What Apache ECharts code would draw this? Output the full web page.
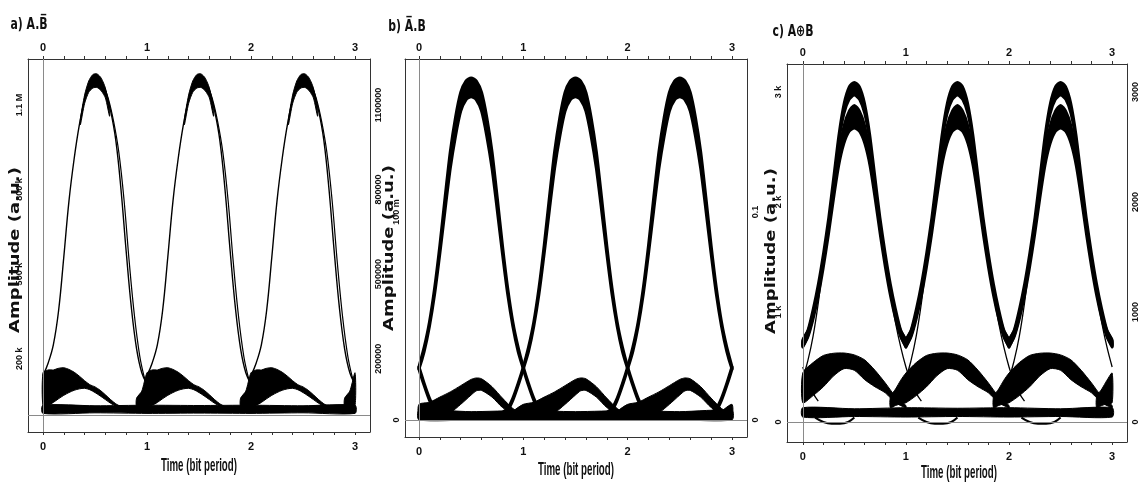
<!DOCTYPE html>
<html>
<head>
<meta charset="utf-8">
<title>Eye diagrams</title>
<script src="https://cdn.jsdelivr.net/npm/echarts@6/dist/echarts.min.js"></script>
<style>
  html, body { margin: 0; padding: 0; background: #fff; }
  #main { width: 1140px; height: 488px; }
</style>
</head>
<body>
<div id="main"></div>
<script>
// ---------- tick labels ----------
const xLabels = [0, 1, 2, 3];
const xTicks = [0, 0.2, 0.4, 0.6, 0.8, 1, 1.2, 1.4, 1.6, 1.8, 2, 2.2, 2.4, 2.6, 2.8, 3];
const aLabels = [200, 500, 800, 1100];          // k
const bLabels = [0, 0.1];
const cLabels = [0, 1000, 2000, 3000];

// ---------- a) A.B̄  (values in k) ----------
const aRiseX = [0, 0.05, 0.1, 0.15, 0.2, 0.25, 0.3, 0.35, 0.4, 0.45, 0.5];
const aRiseY = [140, 185, 250, 370, 560, 760, 910, 1030, 1120, 1175, 1195];
const aFallX = [0.5, 0.55, 0.6, 0.65, 0.7, 0.75, 0.8, 0.85, 0.9, 0.95, 1.0];
const aFallY = [1195, 1185, 1150, 1080, 975, 800, 580, 380, 235, 150, 110];
const aFall2X = [0.53, 0.58, 0.63, 0.68, 0.73, 0.78, 0.83, 0.88, 0.93, 0.97, 1.0];
const aFall2Y = [1190, 1170, 1120, 1040, 930, 760, 540, 350, 210, 140, 105];
const aCapX = [0.36, 0.4, 0.44, 0.48, 0.52, 0.56, 0.6, 0.64];
const aCapHi = [1050, 1135, 1185, 1208, 1210, 1195, 1160, 1090];
const aCapLo = [1030, 1105, 1145, 1160, 1162, 1150, 1125, 1060];
const aBumpX = [-0.1, -0.05, 0, 0.05, 0.1, 0.15, 0.2, 0.25, 0.3, 0.35, 0.4, 0.45, 0.5, 0.55, 0.6, 0.65, 0.7, 0.75];
const aBumpHi = [60, 85, 150, 160, 160, 166, 168, 162, 152, 138, 122, 108, 100, 88, 72, 55, 40, 30];
const aBumpLo = [30, 30, 32, 35, 45, 58, 70, 80, 88, 93, 95, 90, 80, 68, 55, 42, 32, 28];
const aFloorX = [0, 0.5, 1, 1.5, 2, 2.5, 3];
const aFloorHi = [35, 33, 35, 34, 35, 33, 35];
const aFloorLo = [6, 8, 6, 7, 6, 8, 6];

// ---------- b) Ā.B ----------
const bPulseX = [-0.7, -0.65, -0.6, -0.55, -0.5, -0.45, -0.4, -0.35, -0.3, -0.25, -0.2, -0.15, -0.1, -0.05, 0,
  0.05, 0.1, 0.15, 0.2, 0.25, 0.3, 0.35, 0.4, 0.45, 0.5, 0.55, 0.6, 0.65, 0.7];
const bPulseHi = [0.0035, 0.0055, 0.0105, 0.0175, 0.0255, 0.035, 0.047, 0.0635, 0.084, 0.107, 0.129, 0.1455, 0.1575, 0.163, 0.1645,
  0.163, 0.1575, 0.1455, 0.129, 0.107, 0.084, 0.0635, 0.047, 0.035, 0.0255, 0.0175, 0.0105, 0.0055, 0.0035];
const bPulseLo = [0.0025, 0.0045, 0.0095, 0.0165, 0.0245, 0.033, 0.045, 0.0605, 0.080, 0.101, 0.121, 0.1365, 0.1485, 0.154, 0.1555,
  0.154, 0.1485, 0.1365, 0.121, 0.101, 0.080, 0.0605, 0.045, 0.033, 0.0245, 0.0165, 0.0095, 0.0045, 0.0025];
const bBumpX = [-0.1, 0, 0.1, 0.2, 0.3, 0.4, 0.5, 0.55, 0.6, 0.7, 0.8, 0.9, 1.0, 1.05];
const bBumpHi = [0.004, 0.0075, 0.0085, 0.011, 0.0135, 0.0165, 0.0195, 0.0202, 0.0198, 0.016, 0.0105, 0.0055, 0.0025, 0.002];
const bBumpLo = [0.002, 0.002, 0.002, 0.002, 0.0035, 0.0075, 0.012, 0.014, 0.0142, 0.011, 0.006, 0.003, 0.002, 0.002];
const bFloorX = [0, 0.5, 1, 1.5, 2, 2.5, 3];
const bFloorHi = [0.0045, 0.004, 0.0045, 0.004, 0.0045, 0.004, 0.0045];
const bFloorLo = [0, 0, 0, 0, 0, 0, 0];

// ---------- c) A⊕B ----------
const cPulseX = [-0.5, -0.45, -0.4, -0.35, -0.3, -0.25, -0.2, -0.15, -0.1, -0.05, 0,
  0.05, 0.1, 0.15, 0.2, 0.25, 0.3, 0.35, 0.4, 0.45, 0.5];
const cU1Hi = [740, 840, 1030, 1260, 1540, 1860, 2240, 2620, 2900, 3050, 3090, 3050, 2900, 2620, 2240, 1860, 1540, 1260, 1030, 840, 740];
const cU1Lo = [680, 780, 960, 1190, 1470, 1790, 2170, 2540, 2800, 2930, 2970, 2930, 2800, 2540, 2170, 1790, 1470, 1190, 960, 780, 680];
const cU2Hi = [750, 830, 990, 1200, 1460, 1770, 2120, 2460, 2700, 2830, 2880, 2830, 2700, 2460, 2120, 1770, 1460, 1200, 990, 830, 750];
const cU2Lo = [690, 770, 930, 1140, 1400, 1700, 2030, 2330, 2530, 2640, 2670, 2640, 2530, 2330, 2030, 1700, 1400, 1140, 930, 770, 690];
const cRiseX = [-0.65, -0.6, -0.55, -0.5, -0.45, -0.4, -0.35, -0.3, -0.25, -0.2, -0.15, -0.1, -0.05, 0];
const cRiseY = [180, 240, 310, 400, 560, 780, 1080, 1450, 1820, 2200, 2580, 2850, 2990, 3040];
const cFallX = [0, 0.05, 0.1, 0.15, 0.2, 0.25, 0.3, 0.35, 0.4, 0.45, 0.5, 0.55, 0.6, 0.65];
const cFallY = [3040, 2990, 2850, 2580, 2200, 1820, 1480, 1160, 900, 680, 500, 360, 260, 190];
const cBumpX = [-0.15, -0.1, -0.05, 0, 0.1, 0.2, 0.3, 0.4, 0.5, 0.6, 0.7, 0.8, 0.9, 1.0];
const cBumpHi = [230, 300, 380, 445, 540, 605, 625, 627, 610, 565, 470, 355, 230, 150];
const cBumpLo = [130, 150, 165, 175, 240, 320, 420, 485, 470, 385, 320, 265, 175, 130];
const cFloorX = [0, 0.5, 1, 1.5, 2, 2.5, 3];
const cFloorHi = [130, 120, 130, 125, 130, 120, 130];
const cFloorLo = [45, 50, 45, 50, 45, 50, 45];
const cDipX = [0.12, 0.2, 0.28, 0.36, 0.44, 0.5];
const cDipY = [40, 0, -15, -15, 0, 40];

const periods = [0, 1, 2];
const centers = [-0.5, 0.5, 1.5, 2.5, 3.5];
const bumpOffsets = [-1, 0, 1, 2, 3];

// ---------- helpers ----------
const lib = 'Liberation Sans, Arial, sans-serif';

// shift one bit period of samples and keep what lies inside the 0..3 window
function place(xs, ys, off) {
  const out = [];
  xs.forEach((x, i) => {
    const v = Math.round((x + off) * 10000) / 10000;
    if (v >= 0 && v <= 3) out.push([v, ys[i]]);
  });
  return out;
}

function trace(g, xs, ys, offs, width) {
  return offs.map(o => ({
    type: 'line', xAxisIndex: g, yAxisIndex: g, silent: true, animation: false,
    showSymbol: false, smooth: 0.4, z: 4,
    lineStyle: { color: '#000', width: width },
    data: place(xs, ys, o)
  }));
}

// filled band between two sampled envelopes
function band(g, xs, hi, lo, offs, stroke) {
  return {
    type: 'custom', xAxisIndex: g, yAxisIndex: g, silent: true, animation: false, z: 3,
    data: offs.map(o => [o, 0]),
    renderItem: function (params, api) {
      const o = offs[params.dataIndex];
      const up = place(xs, hi, o);
      const dn = place(xs, lo, o).reverse();
      if (up.length < 2) return null;
      const pts = up.concat(dn).map(p => api.coord(p));
      return {
        type: 'polygon',
        shape: { points: pts, smooth: 0.25 },
        style: { fill: '#000', stroke: '#000', lineWidth: stroke }
      };
    }
  };
}

function zeroLines(g) {
  return {
    type: 'line', xAxisIndex: g, yAxisIndex: g, silent: true, animation: false, data: [],
    markLine: {
      silent: true, symbol: 'none', animation: false, z: 6,
      label: { show: false },
      lineStyle: { color: '#8a8a8a', type: 'solid', width: 1 },
      data: [{ yAxis: 0 }, { xAxis: 0 }]
    }
  };
}

// ---------- layout ----------
const grids = [
  { left: 28, top: 59, width: 342, height: 373 },
  { left: 405, top: 59, width: 342, height: 378 },
  { left: 787, top: 64, width: 344, height: 378 }
];
const xRange = [[-0.144, 3.144], [-0.134, 3.144], [-0.153, 3.144]];
const yRange = [[-60, 1263], [-0.0082, 0.1736], [-182, 3255]];

function xAxis(g, pos) {
  return {
    type: 'value', gridIndex: g, position: pos, min: xRange[g][0], max: xRange[g][1],
    axisLine: { show: true, onZero: false, lineStyle: { color: '#333', width: 1 } },
    axisTick: { show: true, customValues: xTicks, length: 3, lineStyle: { color: '#333' } },
    axisLabel: {
      customValues: xLabels, margin: pos === 'top' ? 6 : 9,
      fontFamily: lib, fontWeight: 'bold', fontSize: 11, color: '#111'
    },
    splitLine: { show: false }
  };
}

const leftFmt = [
  v => (v >= 1000 ? (v / 1000) + ' M' : v + ' k'),
  v => (v === 0 ? '0' : Math.round(v * 1000) + ' m'),
  v => (v === 0 ? '0' : (v / 1000) + ' k')
];
const rightFmt = [
  v => String(v * 1000),
  v => String(v),
  v => String(v)
];
const yLabels = [aLabels, bLabels, cLabels];

function yAxis(g, pos) {
  return {
    type: 'value', gridIndex: g, position: pos, min: yRange[g][0], max: yRange[g][1],
    axisLine: { show: true, onZero: false, lineStyle: { color: '#333', width: 1 } },
    axisTick: { show: false },
    axisLabel: {
      customValues: yLabels[g], rotate: 90, margin: 4,
      formatter: pos === 'left' ? leftFmt[g] : rightFmt[g],
      fontFamily: lib, fontWeight: 'bold', fontSize: 9, color: '#111'
    },
    splitLine: { show: false }
  };
}

// ---------- series ----------
let series = [];
// a
series.push(band(0, aFloorX, aFloorHi, aFloorLo, [0], 1));
series.push(band(0, aBumpX, aBumpHi, aBumpLo, bumpOffsets, 1));
series = series.concat(trace(0, aRiseX, aRiseY, periods, 1.4));
series = series.concat(trace(0, aFallX, aFallY, periods, 1.4));
series = series.concat(trace(0, aFall2X, aFall2Y, periods, 1.2));
series.push(band(0, aCapX, aCapHi, aCapLo, periods, 1));
series.push(zeroLines(0));
// b
series.push(band(1, bFloorX, bFloorHi, bFloorLo, [0], 1));
series.push(band(1, bBumpX, bBumpHi, bBumpLo, bumpOffsets, 1));
series.push(band(1, bPulseX, bPulseHi, bPulseLo, centers, 3));
series.push(zeroLines(1));
// c
series.push(band(2, cFloorX, cFloorHi, cFloorLo, [0], 1));
series.push(band(2, cBumpX, cBumpHi, cBumpLo, bumpOffsets, 1));
series.push(band(2, cPulseX, cU1Hi, cU1Lo, [0.5, 1.5, 2.5], 2.5));
series.push(band(2, cPulseX, cU2Hi, cU2Lo, [0.5, 1.5, 2.5], 2.5));
series = series.concat(trace(2, cRiseX, cRiseY, centers, 1.3));
series = series.concat(trace(2, cFallX, cFallY, centers, 1.3));
series = series.concat(trace(2, cDipX, cDipY, periods, 2));
series.push(zeroLines(2));

// ---------- condensed texts (titles, axis names) ----------
function label(text, x, y, font, opts) {
  return Object.assign({
    type: 'text', x: x, y: y, silent: true, z: 10,
    style: { text: text, font: font, fill: '#111', textAlign: 'center', textVerticalAlign: 'middle' }
  }, opts || {});
}
const titleFont = 'bold 16px DejaVu Sans';
const timeFont = 'bold 18px Liberation Sans';
const ampFont = 'bold 18px DejaVu Sans';
const graphics = [
  label('a) A.B\u0305', 29, 25, titleFont, { scaleX: 0.68 }),
  label('b) A\u0305.B', 407, 27, titleFont, { scaleX: 0.68 }),
  label('c) A\u2295B', 793, 32, titleFont, { scaleX: 0.68 }),
  label('Time (bit period)', 199, 466, timeFont, { scaleX: 0.54 }),
  label('Time (bit period)', 576, 470, timeFont, { scaleX: 0.54 }),
  label('Time (bit period)', 959, 473, timeFont, { scaleX: 0.54 }),
  label('Amplitude (a.u.)', 15, 250, ampFont, { rotation: Math.PI / 2, scaleY: 0.75 }),
  label('Amplitude (a.u.)', 389, 248, ampFont, { rotation: Math.PI / 2, scaleY: 0.75 }),
  label('Amplitude (a.u.)', 771, 251, ampFont, { rotation: Math.PI / 2, scaleY: 0.75 })
];

const chart = echarts.init(document.getElementById('main'));
chart.setOption({
  backgroundColor: '#fff',
  animation: false,
  grid: grids,
  xAxis: [xAxis(0, 'bottom'), xAxis(1, 'bottom'), xAxis(2, 'bottom'),
          xAxis(0, 'top'), xAxis(1, 'top'), xAxis(2, 'top')]
    .map((a, i) => Object.assign(a, { gridIndex: i % 3 })),
  yAxis: [yAxis(0, 'left'), yAxis(1, 'left'), yAxis(2, 'left'),
          yAxis(0, 'right'), yAxis(1, 'right'), yAxis(2, 'right')]
    .map((a, i) => Object.assign(a, { gridIndex: i % 3 })),
  graphic: graphics,
  series: series
});
</script>
</body>
</html>
